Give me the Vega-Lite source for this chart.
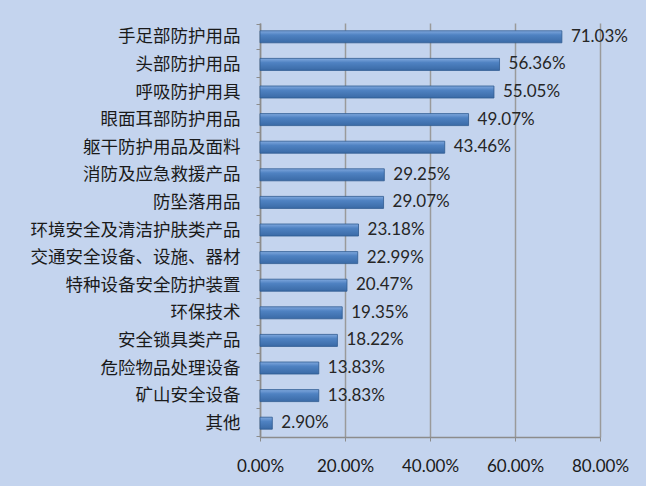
{
  "$schema": "https://vega.github.io/schema/vega-lite/v6.json",
  "width": 340,
  "height": 414,
  "autosize": "none",
  "padding": {"left": 260, "top": 23, "right": 46, "bottom": 49},
  "background": "#c4d4ee",
  "config": {
    "view": {"stroke": null},
    "font": "Noto Sans CJK SC"
  },
  "data": {
    "values": [
      {"category": "手足部防护用品", "share": 0.7103},
      {"category": "头部防护用品", "share": 0.5636},
      {"category": "呼吸防护用具", "share": 0.5505},
      {"category": "眼面耳部防护用品", "share": 0.4907},
      {"category": "躯干防护用品及面料", "share": 0.4346},
      {"category": "消防及应急救援产品", "share": 0.2925},
      {"category": "防坠落用品", "share": 0.2907},
      {"category": "环境安全及清洁护肤类产品", "share": 0.2318},
      {"category": "交通安全设备、设施、器材", "share": 0.2299},
      {"category": "特种设备安全防护装置", "share": 0.2047},
      {"category": "环保技术", "share": 0.1935},
      {"category": "安全锁具类产品", "share": 0.1822},
      {"category": "危险物品处理设备", "share": 0.1383},
      {"category": "矿山安全设备", "share": 0.1383},
      {"category": "其他", "share": 0.029}
    ]
  },
  "encoding": {
    "y": {
      "field": "category", "type": "nominal", "sort": null, "title": null,
      "axis": {
        "tickBand": "extent", "tickSize": 4, "tickColor": "#8c8c8c",
        "domainColor": "#8c8c8c", "domainWidth": 1.5,
        "labelFont": "Noto Sans CJK SC", "labelFontSize": 17.5, "labelColor": "#1a1a1a",
        "labelPadding": 16, "labelLimit": 260
      }
    },
    "x": {
      "field": "share", "type": "quantitative",
      "scale": {"domain": [0, 0.8]},
      "title": null,
      "axis": {
        "values": [0, 0.2, 0.4, 0.6, 0.8], "format": ".2%",
        "grid": true, "gridColor": "#9a9a9a", "gridWidth": 1.5,
        "domainColor": "#8c8c8c", "domainWidth": 1.5,
        "tickColor": "#8c8c8c", "tickSize": 4,
        "labelFont": "Lato", "labelFontSize": 17, "labelColor": "#1a1a1a",
        "labelPadding": 17, "labelFlush": false, "labelOverlap": false
      }
    }
  },
  "layer": [
    {
      "mark": {
        "type": "bar", "size": 12,
        "stroke": "#2f5b91", "strokeWidth": 0.8,
        "color": {
          "gradient": "linear", "x1": 0, "y1": 0, "x2": 0, "y2": 1,
          "stops": [
            {"offset": 0, "color": "#80a8de"},
            {"offset": 0.35, "color": "#4f82c2"},
            {"offset": 1, "color": "#3a6aa6"}
          ]
        }
      }
    },
    {
      "mark": {
        "type": "text", "align": "left", "baseline": "middle", "dx": 9,
        "font": "Lato", "fontSize": 17, "color": "#262626"
      },
      "encoding": {
        "text": {"field": "share", "type": "quantitative", "format": ".2%"}
      }
    }
  ]
}
